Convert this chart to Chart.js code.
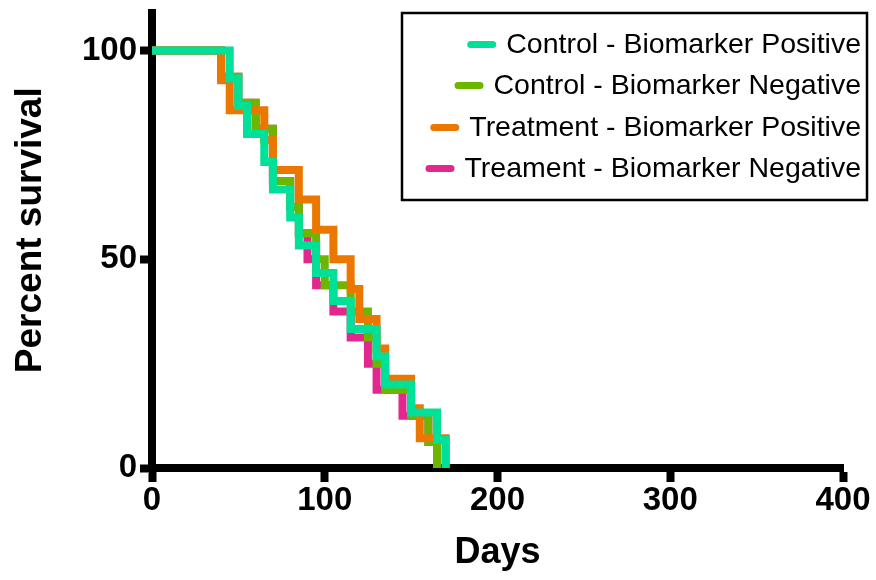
<!DOCTYPE html>
<html>
<head>
<meta charset="utf-8">
<script src="https://cdn.jsdelivr.net/npm/chart.js@4.4.1/dist/chart.umd.min.js"></script>
<style>
  html, body { margin: 0; padding: 0; background: #fff; }
  #wrap { width: 876px; height: 580px; }
</style>
</head>
<body>
<div id="wrap"><canvas id="c" width="876" height="580"></canvas></div>
<script>
// ---- data ----
const seriesLabels = [
  'Control - Biomarker Positive',
  'Control - Biomarker Negative',
  'Treatment - Biomarker Positive',
  'Treament - Biomarker Negative'
];
const ctrlPosDays = [0, 45, 50, 55, 65, 70, 80, 85, 95, 105, 115, 130, 135, 150, 165, 170];
const ctrlPosSurv = [100, 93.3, 86.7, 80, 73.3, 66.7, 60, 53.3, 46.7, 40, 33.3, 26.7, 20, 13.3, 6.7, 0];

const ctrlNegDays = [0, 40, 50, 60, 70, 80, 85, 95, 100, 115, 125, 130, 135, 150, 160, 165];
const ctrlNegSurv = [100, 93.75, 87.5, 81.25, 68.75, 62.5, 56.25, 50, 43.75, 37.5, 31.25, 25, 18.75, 12.5, 6.25, 0];

const trtPosDays = [0, 40, 45, 65, 70, 85, 95, 105, 115, 120, 130, 135, 150, 155, 170];
const trtPosSurv = [100, 92.9, 85.7, 78.6, 71.4, 64.3, 57.1, 50, 42.9, 35.7, 28.6, 21.4, 14.3, 7.1, 0];

const trtNegDays = [0, 40, 50, 60, 70, 80, 85, 90, 95, 105, 115, 125, 130, 145, 160, 165];
const trtNegSurv = [100, 93.75, 87.5, 81.25, 68.75, 62.5, 56.25, 50, 43.75, 37.5, 31.25, 25, 18.75, 12.5, 6.25, 0];

const xTicks = [0, 100, 200, 300, 400];
const yTicks = [0, 50, 100];

const colors = ['#00E098', '#6DB600', '#EC7700', '#E2288E'];

function pts(days, surv) { return days.map((d, i) => ({ x: d, y: surv[i] })); }

const datasets = [
  { label: seriesLabels[0], data: pts(ctrlPosDays, ctrlPosSurv), borderColor: colors[0], order: 0 },
  { label: seriesLabels[1], data: pts(ctrlNegDays, ctrlNegSurv), borderColor: colors[1], order: 2 },
  { label: seriesLabels[2], data: pts(trtPosDays, trtPosSurv), borderColor: colors[2], order: 1 },
  { label: seriesLabels[3], data: pts(trtNegDays, trtNegSurv), borderColor: colors[3], order: 3 }
].map(d => Object.assign(d, {
  stepped: true, borderWidth: 8, pointRadius: 0, pointHoverRadius: 0,
  fill: false, borderCapStyle: 'square', borderJoinStyle: 'miter', backgroundColor: d.borderColor
}));

const FONT = '"Liberation Sans", Arial, Helvetica, sans-serif';

const boxLegend = {
  id: 'boxLegend',
  afterDraw(chart) {
    const ctx = chart.ctx;
    ctx.save();
    ctx.lineWidth = 2.5;
    ctx.strokeStyle = '#000';
    ctx.strokeRect(402, 13, 465, 187);
    ctx.font = '28.5px ' + FONT;
    ctx.textAlign = 'right';
    ctx.textBaseline = 'middle';
    const rows = [45, 86, 128, 169];
    const right = 861;
    chart.data.datasets.forEach((ds, i) => {
      const w = ctx.measureText(ds.label).width;
      ctx.fillStyle = '#000';
      ctx.fillText(ds.label, right, rows[i]);
      const x2 = right - w - 13.5;
      const x1 = x2 - 22;
      ctx.strokeStyle = ds.borderColor;
      ctx.lineWidth = 7;
      ctx.lineCap = 'round';
      ctx.beginPath();
      ctx.moveTo(x1, rows[i] - 0.5);
      ctx.lineTo(x2, rows[i] - 0.5);
      ctx.stroke();
    });
    ctx.restore();
  }
};

new Chart(document.getElementById('c'), {
  type: 'line',
  data: { datasets },
  options: {
    responsive: false,
    animation: false,
    devicePixelRatio: 1,
    layout: { padding: { left: 0, right: 33, top: 13, bottom: 0 } },
    plugins: { legend: { display: false }, tooltip: { enabled: false } },
    scales: {
      x: {
        type: 'linear', min: 0, max: 400,
        afterBuildTicks(s) { s.ticks = xTicks.map(v => ({ value: v })); },
        afterFit(s) { s.height = 112; },
        ticks: { color: '#000', padding: 2, maxRotation: 0, font: { family: FONT, size: 33, weight: 'bold', lineHeight: 1 } },
        grid: { drawOnChartArea: false, drawTicks: true, tickLength: 14, tickWidth: 8, tickColor: '#000' },
        border: { display: true, width: 8, color: '#000' },
        title: { display: true, text: 'Days', color: '#000', padding: { top: 0, bottom: 5 }, font: { family: FONT, size: 36, weight: 'bold', lineHeight: 1.2 } }
      },
      y: {
        type: 'linear', min: 0, max: 109,
        afterBuildTicks(s) { s.ticks = yTicks.map(v => ({ value: v })); },
        afterFit(s) { s.width = 152; },
        ticks: { color: '#000', padding: 3, font: { family: FONT, size: 33, weight: 'bold', lineHeight: 0.5 } },
        grid: { drawOnChartArea: false, drawTicks: true, tickLength: 12, tickWidth: 8, tickColor: '#000' },
        border: { display: true, width: 8, color: '#000' },
        title: { display: true, text: '  Percent survival', color: '#000', padding: { top: 9, bottom: 0 }, font: { family: FONT, size: 37, weight: 'bold', lineHeight: 1.2 } }
      }
    }
  },
  plugins: [boxLegend]
});
</script>
</body>
</html>
